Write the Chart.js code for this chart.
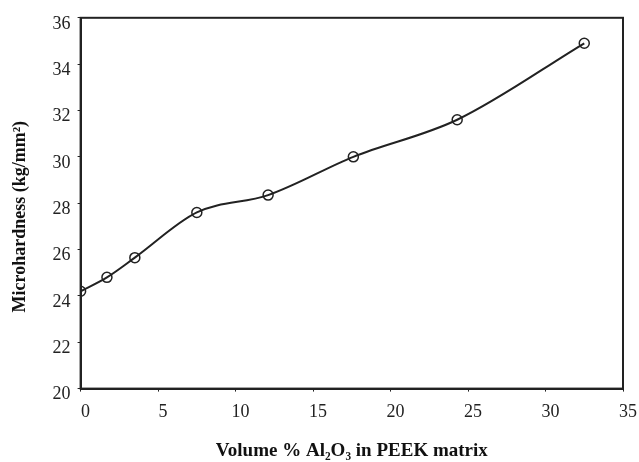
<!DOCTYPE html>
<html>
<head>
<meta charset="utf-8">
<script src="https://cdn.jsdelivr.net/npm/chart.js@4/dist/chart.umd.min.js"></script>
<style>
  html, body { margin: 0; padding: 0; background: #fff; }
  #wrap { width: 639px; height: 462px; }
</style>
</head>
<body>
<div id="wrap"><canvas id="grafico"></canvas></div>
<script>
// datos
const volumenAl2O3 = [0, 1.7, 3.5, 7.5, 12.1, 17.6, 24.3, 32.5];
const microdureza = [24.2, 24.8, 25.65, 27.6, 28.35, 30.0, 31.6, 34.9];
const tituloX = 'Volume % Al\u2082O\u2083 in PEEK matrix';
const tituloY = 'Microhardness (kg/mm\u00B2)\u00A0\u00A0\u00A0\u00A0\u00A0\u00A0';

const fuente = "'Liberation Serif', 'DejaVu Serif', serif";
const tinta = '#222';

// marco alrededor del area del grafico
const marco = {
    id: 'marco',
    afterDraw(chart) {
        const a = chart.chartArea;
        const ctx = chart.ctx;
        ctx.save();
        ctx.strokeStyle = tinta;
        ctx.lineWidth = 2;
        ctx.strokeRect(a.left, a.top, a.right - a.left, a.bottom - a.top);
        ctx.restore();
    }
};

new Chart(document.getElementById('grafico'), {
    type: 'line',
    data: {
        datasets: [{
            data: volumenAl2O3.map((x, i) => ({ x: x, y: microdureza[i] })),
            borderColor: tinta,
            borderWidth: 2,
            tension: 0.4,
            cubicInterpolationMode: 'monotone',
            pointRadius: 5,
            pointBorderWidth: 1.5,
            pointBackgroundColor: 'rgba(255,255,255,0)',
            pointBorderColor: tinta,
            fill: false
        }]
    },
    options: {
        responsive: true,
        maintainAspectRatio: false,
        animation: false,
        layout: { padding: { top: 7, right: 5, left: 10, bottom: 0 } },
        plugins: { legend: { display: false }, tooltip: { enabled: false } },
        scales: {
            x: {
                type: 'linear', min: 0, max: 35,
                afterFit: s => { s.paddingRight = 16; },
                ticks: { stepSize: 5, color: tinta, font: { family: fuente, size: 18 }, padding: 10, labelOffset: 5 },
                grid: { drawOnChartArea: false, tickLength: 3, color: tinta },
                border: { color: tinta, width: 2 },
                title: { display: true, text: tituloX, color: '#111', font: { family: fuente, size: 19, weight: 'bold' }, padding: { top: 6, bottom: 0 } }
            },
            y: {
                min: 20, max: 36,
                ticks: { stepSize: 2, color: tinta, font: { family: fuente, size: 18 }, padding: 7, labelOffset: 6 },
                grid: { drawOnChartArea: false, tickLength: 3, color: tinta },
                border: { color: tinta, width: 2 },
                title: { display: true, text: tituloY, color: '#111', font: { family: fuente, size: 18, weight: 'bold' }, padding: { top: 0, bottom: 14 } }
            }
        }
    },
    plugins: [marco]
});
</script>
</body>
</html>
